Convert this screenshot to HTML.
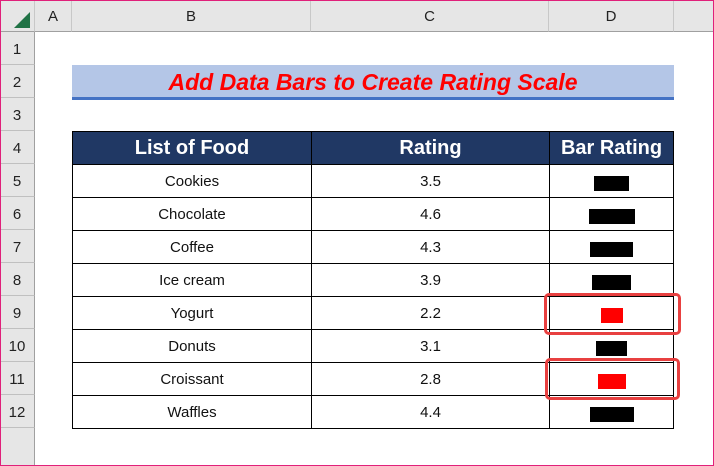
<!DOCTYPE html>
<html><head><meta charset="utf-8"><style>
*{margin:0;padding:0;box-sizing:border-box}
body{width:714px;height:466px;position:relative;overflow:hidden;background:#fff;font-family:"Liberation Sans",sans-serif}
.a{position:absolute}
.ch{position:absolute;top:0;height:32px;border-right:1px solid #c8c8c8;border-bottom:1px solid #a0a0a0;background:#e6e6e6;font-size:15px;color:#222;text-align:center;line-height:34px}
.rh{position:absolute;left:0;width:35px;height:33px;border-bottom:1px solid #c0c0c0;border-right:1px solid #a0a0a0;background:#e6e6e6;font-size:15px;color:#222;text-align:center;line-height:36px}
.cell{position:absolute;height:34px;border:1px solid #000;font-size:15px;text-align:center;line-height:33px;color:#111}
.th{background:#203864;color:#fff;font-weight:bold;font-size:20px;border-color:#000}
.bar{position:absolute;background:#000}
.box{position:absolute;border:3px solid #e84040;border-radius:5px}
</style></head><body>
<div class="ch" style="left:0;width:35px"></div>
<div class="a" style="left:14px;top:12px;width:0;height:0;border-left:16px solid transparent;border-bottom:16px solid #217346"></div>
<div class="ch" style="left:35px;width:37px">A</div>
<div class="ch" style="left:72px;width:239px">B</div>
<div class="ch" style="left:311px;width:238px">C</div>
<div class="ch" style="left:549px;width:125px">D</div>
<div class="ch" style="left:674px;width:40px;border-right:none"></div>
<div class="rh" style="top:32px">1</div>
<div class="rh" style="top:65px">2</div>
<div class="rh" style="top:98px">3</div>
<div class="rh" style="top:131px">4</div>
<div class="rh" style="top:164px">5</div>
<div class="rh" style="top:197px">6</div>
<div class="rh" style="top:230px">7</div>
<div class="rh" style="top:263px">8</div>
<div class="rh" style="top:296px">9</div>
<div class="rh" style="top:329px">10</div>
<div class="rh" style="top:362px">11</div>
<div class="rh" style="top:395px">12</div>
<div class="rh" style="top:428px;height:38px;border-bottom:none"></div>

<div class="a" style="left:72px;top:65px;width:602px;height:32px;background:#b4c6e7;color:#f00;font-weight:bold;font-style:italic;font-size:23px;text-align:center;line-height:34px">Add Data Bars to Create Rating Scale</div>
<div class="a" style="left:72px;top:97px;width:602px;height:3px;background:#4472c4"></div>

<div class="cell th" style="left:72px;top:131px;width:240px">List of Food</div>
<div class="cell th" style="left:311px;top:131px;width:239px">Rating</div>
<div class="cell th" style="left:549px;top:131px;width:125px">Bar Rating</div>

<div class="cell" style="left:72px;top:164px;width:240px">Cookies</div><div class="cell" style="left:311px;top:164px;width:239px">3.5</div><div class="cell" style="left:549px;top:164px;width:125px"></div>
<div class="cell" style="left:72px;top:197px;width:240px">Chocolate</div><div class="cell" style="left:311px;top:197px;width:239px">4.6</div><div class="cell" style="left:549px;top:197px;width:125px"></div>
<div class="cell" style="left:72px;top:230px;width:240px">Coffee</div><div class="cell" style="left:311px;top:230px;width:239px">4.3</div><div class="cell" style="left:549px;top:230px;width:125px"></div>
<div class="cell" style="left:72px;top:263px;width:240px">Ice cream</div><div class="cell" style="left:311px;top:263px;width:239px">3.9</div><div class="cell" style="left:549px;top:263px;width:125px"></div>
<div class="cell" style="left:72px;top:296px;width:240px">Yogurt</div><div class="cell" style="left:311px;top:296px;width:239px">2.2</div><div class="cell" style="left:549px;top:296px;width:125px"></div>
<div class="cell" style="left:72px;top:329px;width:240px">Donuts</div><div class="cell" style="left:311px;top:329px;width:239px">3.1</div><div class="cell" style="left:549px;top:329px;width:125px"></div>
<div class="cell" style="left:72px;top:362px;width:240px">Croissant</div><div class="cell" style="left:311px;top:362px;width:239px">2.8</div><div class="cell" style="left:549px;top:362px;width:125px"></div>
<div class="cell" style="left:72px;top:395px;width:240px">Waffles</div><div class="cell" style="left:311px;top:395px;width:239px">4.4</div><div class="cell" style="left:549px;top:395px;width:125px"></div>

<div class="bar" style="left:594px;top:176px;width:35px;height:15px"></div>
<div class="bar" style="left:589px;top:209px;width:46px;height:15px"></div>
<div class="bar" style="left:590px;top:242px;width:43px;height:15px"></div>
<div class="bar" style="left:592px;top:275px;width:39px;height:15px"></div>
<div class="bar" style="left:601px;top:308px;width:22px;height:15px;background:#f00"></div>
<div class="bar" style="left:596px;top:341px;width:31px;height:15px"></div>
<div class="bar" style="left:598px;top:374px;width:28px;height:15px;background:#f00"></div>
<div class="bar" style="left:590px;top:407px;width:44px;height:15px"></div>

<div class="box" style="left:544px;top:293px;width:137px;height:42px"></div>
<div class="box" style="left:545px;top:358px;width:135px;height:42px"></div>

<div class="a" style="left:0;top:0;width:714px;height:466px;border:1px solid #e0207a"></div>
</body></html>
